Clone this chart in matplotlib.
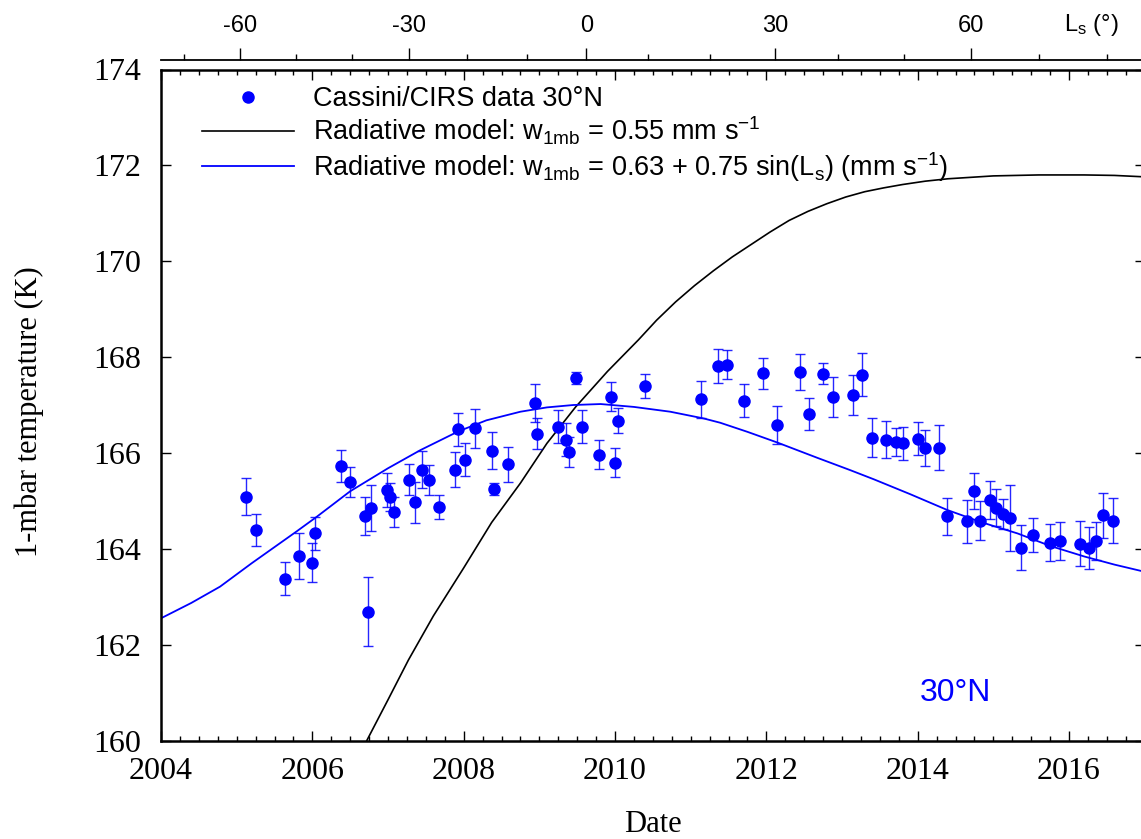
import matplotlib
matplotlib.use("Agg")
import matplotlib.pyplot as plt
from matplotlib.ticker import MultipleLocator

# ------------------------------------------------------------------
# Data
# ------------------------------------------------------------------

obs_date = [2005.12, 2005.25, 2005.64, 2005.82, 2005.99, 2006.04, 2006.38, 2006.50,
            2006.69, 2006.73, 2006.77, 2006.99, 2007.03, 2007.08, 2007.28, 2007.36,
            2007.45, 2007.54, 2007.67, 2007.89, 2007.93, 2008.02, 2008.15, 2008.37,
            2008.40, 2008.58, 2008.94, 2008.97, 2009.24, 2009.35, 2009.39, 2009.48,
            2009.57, 2009.79, 2009.95, 2010.00, 2010.04, 2010.39, 2011.14, 2011.36,
            2011.48, 2011.70, 2011.96, 2012.14, 2012.44, 2012.57, 2012.75, 2012.88,
            2013.14, 2013.27, 2013.40, 2013.58, 2013.71, 2013.81, 2014.01, 2014.10,
            2014.28, 2014.39, 2014.65, 2014.74, 2014.82, 2014.95, 2015.04, 2015.13,
            2015.22, 2015.36, 2015.53, 2015.75, 2015.88, 2016.14, 2016.27, 2016.36,
            2016.45, 2016.58]

obs_temp = [165.09, 164.39, 163.38, 163.84, 163.71, 164.32, 165.73, 165.39,
            164.68, 162.69, 164.86, 165.23, 165.08, 164.77, 165.44, 164.97,
            165.65, 165.43, 164.87, 165.65, 166.49, 165.86, 166.51, 166.05,
            165.25, 165.76, 167.04, 166.40, 166.55, 166.28, 166.02, 167.56,
            166.55, 165.96, 167.17, 165.80, 166.67, 167.40, 167.12, 167.81,
            167.84, 167.09, 167.66, 166.58, 167.69, 166.81, 167.65, 167.17,
            167.21, 167.63, 166.32, 166.28, 166.23, 166.20, 166.30, 166.10,
            166.11, 164.68, 164.57, 165.21, 164.59, 165.02, 164.86, 164.73,
            164.64, 164.02, 164.29, 164.13, 164.16, 164.11, 164.02, 164.16,
            164.70, 164.59]

obs_err = [0.39, 0.33, 0.34, 0.48, 0.41, 0.35, 0.34, 0.31,
           0.40, 0.72, 0.48, 0.36, 0.30, 0.32, 0.32, 0.43,
           0.38, 0.31, 0.25, 0.37, 0.35, 0.35, 0.40, 0.38,
           0.12, 0.36, 0.39, 0.32, 0.34, 0.34, 0.31, 0.12,
           0.34, 0.30, 0.30, 0.31, 0.26, 0.25, 0.39, 0.36,
           0.30, 0.35, 0.33, 0.40, 0.37, 0.33, 0.22, 0.42,
           0.41, 0.45, 0.41, 0.39, 0.30, 0.34, 0.35, 0.38,
           0.47, 0.39, 0.45, 0.37, 0.40, 0.39, 0.39, 0.31,
           0.69, 0.47, 0.35, 0.39, 0.39, 0.47, 0.44, 0.39,
           0.47, 0.46]

# radiative model, constant w
model1_date = [2006.72, 2007.00, 2007.27, 2007.60, 2008.00, 2008.37, 2008.75, 2009.10,
               2009.48, 2009.90, 2010.31, 2010.55, 2010.80, 2011.05, 2011.30, 2011.55,
               2011.80, 2012.05, 2012.30, 2012.55, 2012.80, 2013.05, 2013.30, 2013.55,
               2013.80, 2014.10, 2014.40, 2014.70, 2015.00, 2015.30, 2015.60, 2015.90,
               2016.20, 2016.60, 2017.00]
model1_temp = [160.00, 160.85, 161.68, 162.60, 163.60, 164.55, 165.37, 166.20,
               166.96, 167.70, 168.36, 168.77, 169.15, 169.49, 169.80, 170.09,
               170.35, 170.61, 170.85, 171.04, 171.20, 171.34, 171.45, 171.53,
               171.60, 171.67, 171.72, 171.75, 171.78, 171.79, 171.80, 171.80,
               171.80, 171.79, 171.76]

# radiative model, seasonally varying w
model2_date = [2004.00, 2004.40, 2004.78, 2005.20, 2005.79, 2006.06, 2006.50, 2007.00,
               2007.43, 2007.93, 2008.30, 2008.75, 2009.10, 2009.45, 2009.81, 2010.25,
               2010.73, 2011.17, 2011.39, 2011.75, 2012.14, 2012.67, 2013.11, 2013.42,
               2013.90, 2014.39, 2014.85, 2015.32, 2015.75, 2016.20, 2016.60, 2017.00]
model2_temp = [162.55, 162.87, 163.21, 163.70, 164.36, 164.67, 165.20, 165.68,
               166.06, 166.45, 166.68, 166.86, 166.95, 167.00, 167.02, 166.96,
               166.86, 166.72, 166.63, 166.44, 166.22, 165.90, 165.64, 165.45,
               165.14, 164.81, 164.55, 164.32, 164.06, 163.84, 163.67, 163.52]

# solar longitude axis (dates where Ls takes these values)
ls_major_date = [2005.041, 2007.284, 2009.620, 2012.115, 2014.710]
ls_major_label = ["-60", "-30", "0", "30", "60"]
ls_minor_date = [2004.304, 2005.786, 2006.522, 2008.046, 2008.843, 2010.432,
                 2011.253, 2012.952, 2013.823, 2015.606, 2016.500]

year_ticks = [2004, 2006, 2008, 2010, 2012, 2014, 2016]
temp_ticks = [160, 162, 164, 166, 168, 170, 172, 174]

# ------------------------------------------------------------------
# Figure
# ------------------------------------------------------------------

plt.rcParams["mathtext.default"] = "regular"

SERIF = "Liberation Serif"
SANS = "Liberation Sans"
W, H = 1141, 839

fig = plt.figure(figsize=(W / 100, H / 100), dpi=100)
ax = fig.add_axes([161 / W, 1 - 740.5 / H, 983.7 / W, 671 / H])

ax.plot(model1_date, model1_temp, color="black", lw=1.2,
        label=r"Radiative model: w$_{1mb}$ = 0.55 mm s$^{-1}$", zorder=2)
ax.plot(model2_date, model2_temp, color="#0000ff", lw=1.3,
        label=r"Radiative model: w$_{1mb}$ = 0.63 + 0.75 sin(L$_{s}$) (mm s$^{-1}$)",
        zorder=2)
ax.errorbar(obs_date, obs_temp, yerr=obs_err, fmt="none", ecolor="#0000ff",
            elinewidth=1.0, capsize=3.8, capthick=1.0, alpha=0.85, zorder=3)
ax.plot(obs_date, obs_temp, "o", color="#0000ff", ms=8, mec="#0000ff",
        label="Cassini/CIRS data 30°N", zorder=4)

ax.set_xlim(2004, 2017)
ax.set_ylim(160, 174)
ax.set_xticks(year_ticks)
ax.set_xticklabels([str(y) for y in year_ticks])
ax.xaxis.set_minor_locator(MultipleLocator(0.25))
ax.set_yticks(temp_ticks)
ax.set_yticklabels([str(t) for t in temp_ticks])

ax.tick_params(which="both", direction="in", top=True, right=True, width=1.0)
ax.tick_params(which="major", length=7.2)
ax.tick_params(which="minor", length=3.6)
ax.tick_params(axis="x", labelsize=23, pad=12)
ax.tick_params(axis="y", labelsize=23, pad=14)
for lab in ax.get_xticklabels() + ax.get_yticklabels():
    lab.set_family(SERIF)
for sp in ax.spines.values():
    sp.set_linewidth(1.8)

ax.set_xlabel("Date", fontsize=22, family=SERIF)
ax.xaxis.set_label_coords(0.5, -0.104)
ax.set_ylabel("1-mbar temperature (K)", fontsize=22, family=SERIF)
ax.yaxis.set_label_coords(-0.119, 0.49)

ax.text(2014.5, 161.0, "30°N", color="#0000ff", fontsize=23, family=SANS,
        ha="center", va="center")

# legend: dots first, then the two models
h, l = ax.get_legend_handles_labels()
order = [2, 0, 1]
ax.legend([h[i] for i in order], [l[i] for i in order], loc="upper left",
          bbox_to_anchor=(0.0417, 0.975), frameon=False, borderpad=0,
          borderaxespad=0, handlelength=3.4, handletextpad=0.7,
          labelspacing=0.1, prop={"family": SANS, "size": 19.5})

# solar longitude axis on top
sec = ax.secondary_xaxis(1 + 9.5 / 671)
sec.set_xticks(ls_major_date)
sec.set_xticklabels(ls_major_label)
sec.set_xticks(ls_minor_date, minor=True)
sec.tick_params(which="both", direction="out", width=1.0)
sec.tick_params(which="major", length=8.5, labelsize=17, pad=8)
sec.tick_params(which="minor", length=4.3)
for lab in sec.get_xticklabels():
    lab.set_family(SANS)
for sp in sec.spines.values():
    sp.set_linewidth(1.3)

fig.text(1091 / W, 1 - 25 / H, r"L$_{s}$ (°)", fontsize=17, family=SANS,
         ha="center", va="center")

fig.savefig("out.png", dpi=100)
